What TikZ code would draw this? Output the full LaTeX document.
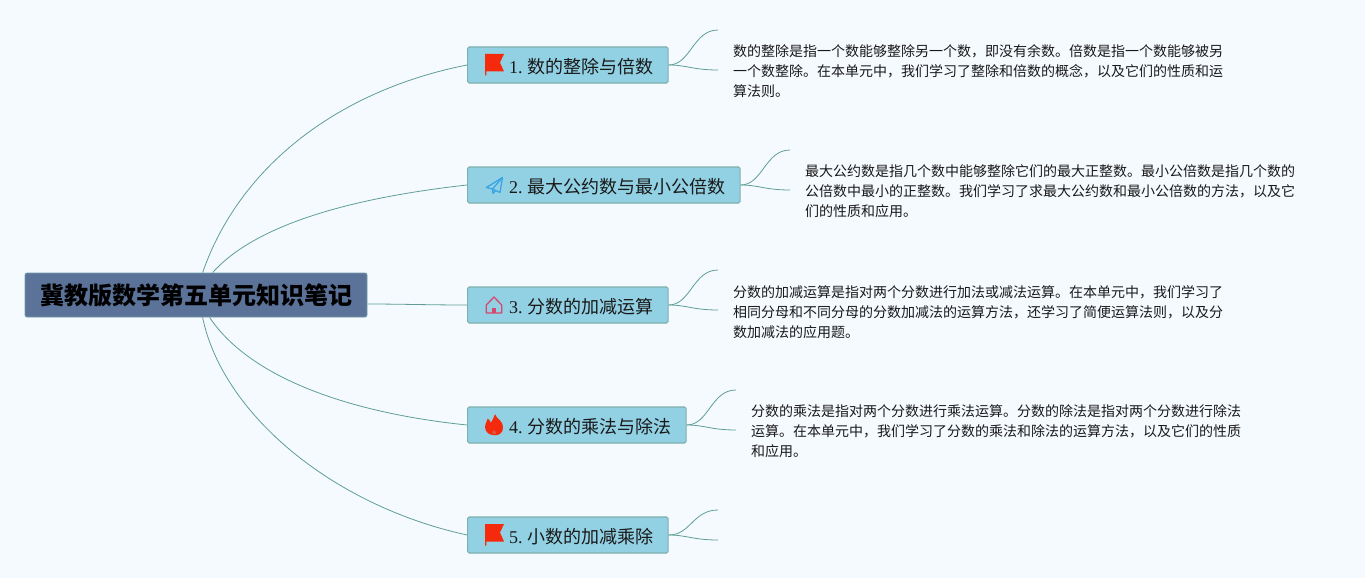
\documentclass[tikz,border=0pt]{standalone}
\usepackage{fontspec}
\usetikzlibrary{calc}
\setmainfont{Liberation Serif}
\newfontfamily\cjk{Noto Sans CJK SC}
\definecolor{bgc}{HTML}{F5FAFF}
\definecolor{rootc}{HTML}{5B7299}
\definecolor{branchc}{HTML}{92D1E3}
\definecolor{edgec}{HTML}{7FB0AE}
\definecolor{linkc}{HTML}{5F9E96}
\definecolor{flagc}{HTML}{F52A0C}
\definecolor{planec}{HTML}{3AA3E3}
\definecolor{housec}{HTML}{D6486F}
\tikzset{
  rootbox/.style={draw=edgec!70!rootc,line width=.8pt,fill=rootc,rounded corners=2pt,inner sep=0pt,minimum width=342pt,minimum height=44pt,font=\fontsize{24}{28}\selectfont\cjk\bfseries,text=black},
  branchbox/.style={draw=edgec,line width=1.2pt,fill=branchc,rounded corners=1.5pt,inner sep=0pt,minimum height=36pt,anchor=west},
  labeltext/.style={font=\fontsize{18}{22}\selectfont,text=black!90,anchor=west,inner sep=0pt},
  leaftext/.style={font=\fontsize{14}{20.4}\selectfont\cjk,text=black!90,anchor=north west,inner sep=0pt,align=left},
  link/.style={draw=linkc,line width=.8pt},
}
\newcommand{\lab}[2]{#1.\hspace{4.3pt}{\cjk #2}}
\begin{document}
\begin{tikzpicture}[x=1pt,y=-1pt]
\useasboundingbox[fill=bgc] (0,0) rectangle (1365,578);
% root
\node[rootbox] (root) at (196,295) {\raisebox{-2pt}{冀教版数学第五单元知识笔记}};
% branches
\node[branchbox,minimum width=200.5pt] (b1) at (467,65) {};
\node[branchbox,minimum width=272.5pt] (b2) at (467,185) {};
\node[branchbox,minimum width=200.5pt] (b3) at (467,305) {};
\node[branchbox,minimum width=218.5pt] (b4) at (467,425) {};
\node[branchbox,minimum width=200.5pt] (b5) at (467,535) {};
\node[labeltext] (t1) at (509,66.5) {\lab{1}{数的整除与倍数}};
\node[labeltext] (t2) at (509,186.5) {\lab{2}{最大公约数与最小公倍数}};
\node[labeltext] (t3) at (509,306.5) {\lab{3}{分数的加减运算}};
\node[labeltext] (t4) at (509,426.5) {\lab{4}{分数的乘法与除法}};
\node[labeltext] (t5) at (509,536.5) {\lab{5}{小数的加减乘除}};
% notes
\node[leaftext] (l1) at (733,44) {数的整除是指一个数能够整除另一个数，即没有余数。倍数是指一个数能够被另\\一个数整除。在本单元中，我们学习了整除和倍数的概念，以及它们的性质和运\\算法则。};
\node[leaftext] (l2) at (805,164) {最大公约数是指几个数中能够整除它们的最大正整数。最小公倍数是指几个数的\\公倍数中最小的正整数。我们学习了求最大公约数和最小公倍数的方法，以及它\\们的性质和应用。};
\node[leaftext] (l3) at (733,285) {分数的加减运算是指对两个分数进行加法或减法运算。在本单元中，我们学习了\\相同分母和不同分母的分数加减法的运算方法，还学习了简便运算法则，以及分\\数加减法的应用题。};
\node[leaftext] (l4) at (751,404) {分数的乘法是指对两个分数进行乘法运算。分数的除法是指对两个分数进行除法\\运算。在本单元中，我们学习了分数的乘法和除法的运算方法，以及它们的性质\\和应用。};
% free ends of the leaf connectors
\coordinate (e1a) at (718,30); \coordinate (e1b) at (718,70);
\coordinate (e2a) at (790,150); \coordinate (e2b) at (790,190);
\coordinate (e3a) at (718,270); \coordinate (e3b) at (718,310);
\coordinate (e4a) at (736,390); \coordinate (e4b) at (736,430);
\coordinate (e5a) at (718,510); \coordinate (e5b) at (718,540);
% root connectors
\path (root.north west) ++(178,0) coordinate (rt1) ++(10,0) coordinate (rt2);
\path (root.south west) ++(178,0) coordinate (rb1) ++(7,0) coordinate (rb2);
\draw[link] (rt1) .. controls (240,165) and (340,90) .. (b1.west);
\draw[link] (rt2) .. controls (255,225) and (350,198) .. (b2.west);
\draw[link] (root.east |- 0,304) .. controls (400,304) and (430,305) .. (b3.west);
\draw[link] (rb2) .. controls (250,378) and (350,413) .. (b4.west);
\draw[link] (rb1) .. controls (222,412) and (330,505) .. (b5.west);
% leaf connectors
\foreach \b/\e in {b1/e1,b2/e2,b3/e3,b4/e4,b5/e5}{
  \draw[link] (\b.east) .. controls +(22,0) and ($(\e a)+(-25,0)$) .. (\e a);
  \draw[link] (\b.east) .. controls +(18,0) and ($(\e b)+(-25,0)$) .. (\e b);
}
% icons: flags
\foreach \y in {65,535}{
  \begin{scope}[shift={(485,\y)}]
  \fill[flagc] (0,-11) -- (19,-11) -- (15,-2.5) -- (19,6.5) -- (1.3,6.5) -- (1.3,10.5) -- (0,10.5) -- cycle;
  \end{scope}
}
% paper plane
\begin{scope}[shift={(486,185)}]
\draw[color=planec,line width=1.3pt,line join=round] (0.5,2.5) -- (16.5,-7.5) -- (14,7.5) -- (6.5,4) -- cycle;
\draw[color=planec,line width=1.3pt,line join=round] (6.5,4) -- (16.5,-7.5);
\draw[color=planec,line width=1.3pt,line join=round] (6.5,4) -- (7,8.5) -- (9.5,5.5);
\end{scope}
% house
\begin{scope}[shift={(486,305)}]
\draw[color=housec,line width=1.3pt,line join=round] (0.3,0) -- (8,-8) -- (15.7,0) -- (15.7,8) -- (0.3,8) -- cycle;
\fill[housec] (5.8,2.5) rectangle (10.2,8);
\end{scope}
% flame
\begin{scope}[shift={(494,425)},xscale=1.05,yscale=1.08]
\fill[flagc] (1,-10) .. controls (2,-6) and (8,-5) .. (8.5,2) .. controls (9,7) and (5,9.5) .. (1,9.5)
 .. controls (-4,9.5) and (-8.5,7) .. (-8.5,2) .. controls (-8.5,-2) and (-6,-4) .. (-6,-6)
 .. controls (-4,-5) and (-3.5,-3) .. (-3,-2) .. controls (-1,-5) and (0,-8) .. (1,-10) -- cycle;
\fill[branchc!25!flagc] (0,4.5) .. controls (1,5.5) and (2.3,6.5) .. (2,7.8) .. controls (1.5,9) and (-1.5,9) .. (-2,7.8) .. controls (-2.3,6.8) and (-1,6) .. (0,4.5) -- cycle;
\end{scope}
\end{tikzpicture}
\end{document}
